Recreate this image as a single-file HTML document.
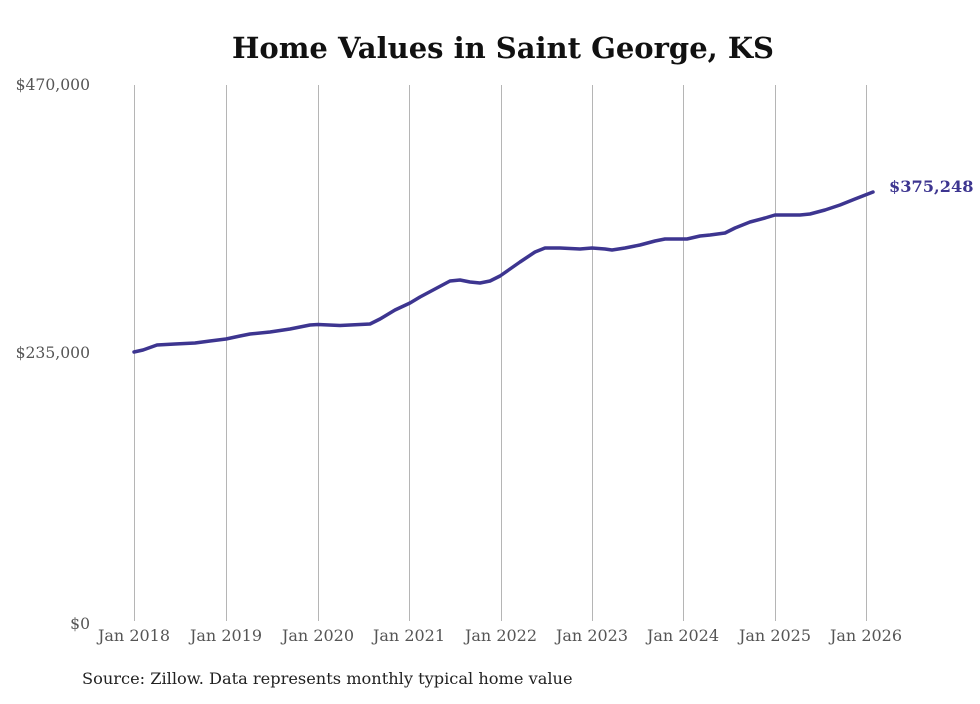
<!DOCTYPE html>
<html><head><style>body{margin:0;background:#fff}</style></head><body>
<svg width="980" height="699" xmlns="http://www.w3.org/2000/svg" font-family="DejaVu Serif, Liberation Serif, serif">
<rect width="980" height="699" fill="#fff"/>
<text x="503" y="58" text-anchor="middle" font-size="29" font-weight="bold" fill="#111">Home Values in Saint George, KS</text>
<g stroke="#b5b5b5" stroke-width="1">
<line x1="134.5" y1="85" x2="134.5" y2="621"/><line x1="226.5" y1="85" x2="226.5" y2="621"/>
<line x1="318.5" y1="85" x2="318.5" y2="621"/><line x1="409.5" y1="85" x2="409.5" y2="621"/>
<line x1="501.5" y1="85" x2="501.5" y2="621"/><line x1="592.5" y1="85" x2="592.5" y2="621"/>
<line x1="683.5" y1="85" x2="683.5" y2="621"/><line x1="775.5" y1="85" x2="775.5" y2="621"/>
<line x1="866.5" y1="85" x2="866.5" y2="621"/>
</g>
<g font-size="15.6" fill="#555" text-anchor="end">
<text x="90" y="90">$470,000</text><text x="90" y="358">$235,000</text><text x="90" y="629">$0</text>
</g>
<g font-size="16" fill="#555" text-anchor="middle">
<text x="134" y="641">Jan 2018</text><text x="226" y="641">Jan 2019</text><text x="318" y="641">Jan 2020</text>
<text x="409" y="641">Jan 2021</text><text x="501" y="641">Jan 2022</text><text x="592" y="641">Jan 2023</text>
<text x="683" y="641">Jan 2024</text><text x="775" y="641">Jan 2025</text><text x="866" y="641">Jan 2026</text>
</g>
<polyline fill="none" stroke="#3d3590" stroke-width="3.5" stroke-linejoin="round" stroke-linecap="round"
points="134,352 143,350 157,345 175,344 195,343 210,341 226,339 240,336 250,334 270,332 290,329 310,325 318,324.5 340,325.5 370,324 380,319 395,310 410,303 420,297 435,289 450,281 460,280 470,282 480,283 490,281 500,276 510,269 520,262 535,252 545,248 560,248 580,249 592,248 605,249 612,250 625,248 640,245 655,241 665,239 687,239 700,236 710,235 725,233 735,228 750,222 765,218 775,215 790,215 800,215 810,214 825,210 840,205 855,199 873,192"/>
<text x="889" y="192" font-size="16.2" font-weight="bold" fill="#3d3590">$375,248</text>
<text x="82" y="684" font-size="16.2" fill="#222">Source: Zillow. Data represents monthly typical home value</text>
</svg>
</body></html>
